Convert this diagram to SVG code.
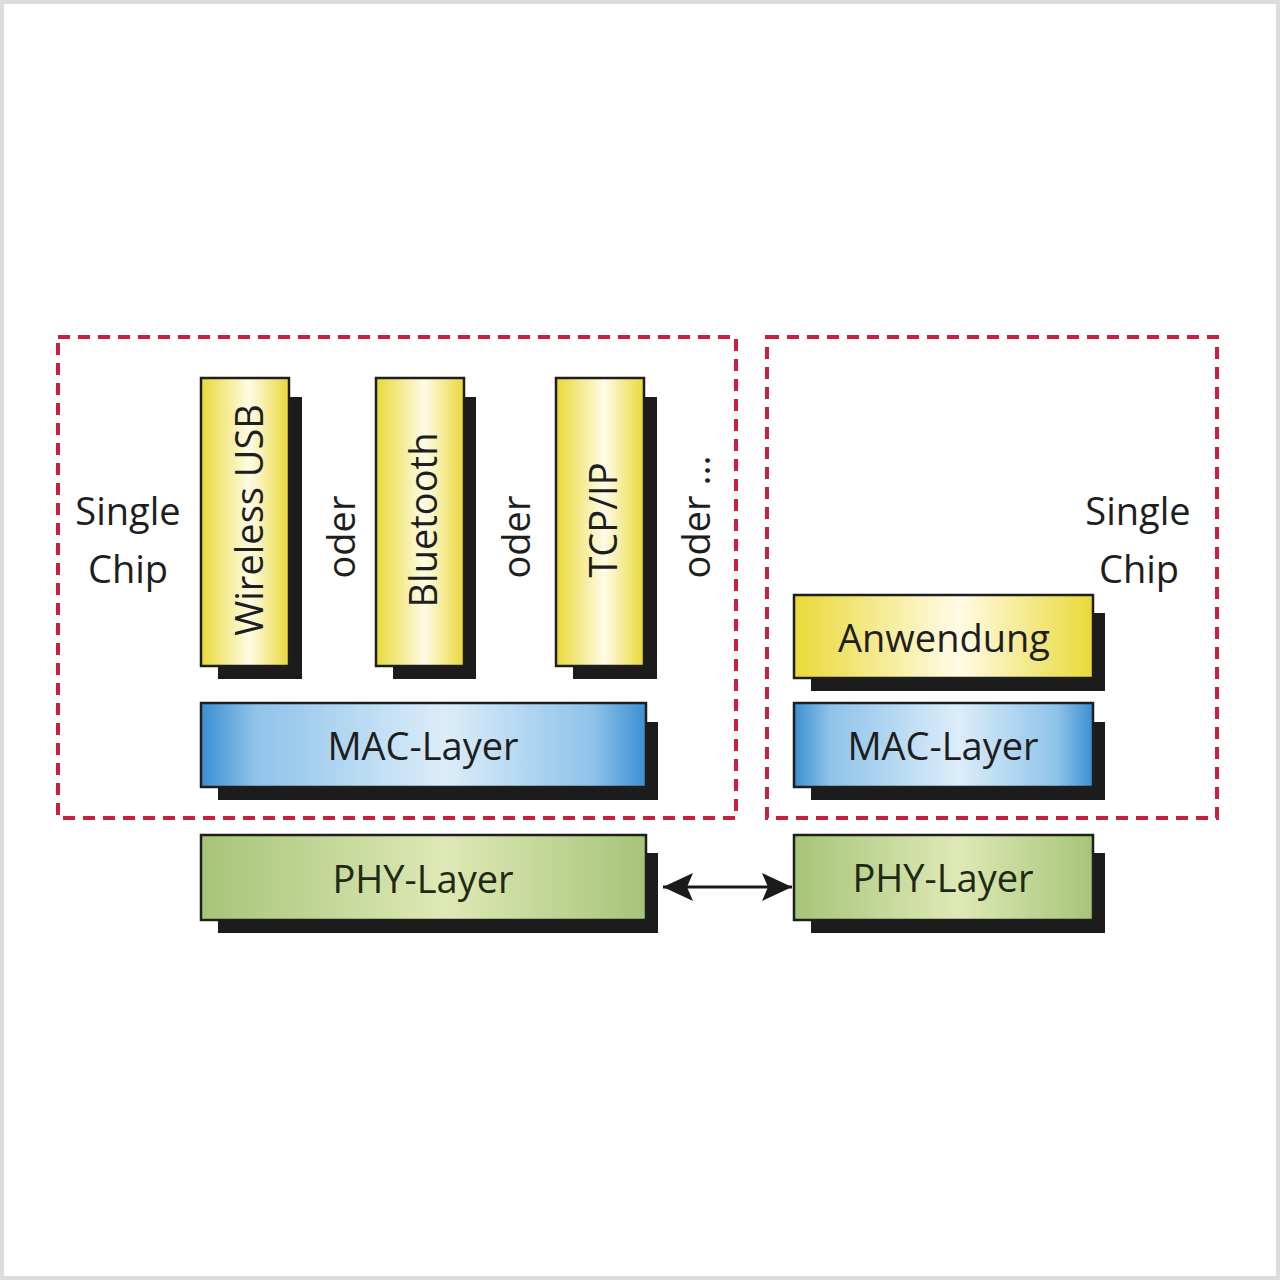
<svg xmlns="http://www.w3.org/2000/svg" width="1280" height="1280" viewBox="0 0 1280 1280">
<defs>
<linearGradient id="gy" x1="0" y1="0" x2="1" y2="0">
<stop offset="0" stop-color="#e9d938"/><stop offset="0.55" stop-color="#fffbe6"/><stop offset="1" stop-color="#e9d938"/>
</linearGradient>
<linearGradient id="gb" x1="0" y1="0" x2="1" y2="0">
<stop offset="0" stop-color="#3b8fd2"/><stop offset="0.12" stop-color="#8ec3ea"/><stop offset="0.55" stop-color="#dcedf9"/><stop offset="0.88" stop-color="#8ec3ea"/><stop offset="1" stop-color="#3b8fd2"/>
</linearGradient>
<linearGradient id="gg" x1="0" y1="0" x2="1" y2="0">
<stop offset="0" stop-color="#a6c478"/><stop offset="0.55" stop-color="#dfe9b6"/><stop offset="1" stop-color="#a6c478"/>
</linearGradient>
<marker id="ah" viewBox="0 0 30 28" refX="30" refY="14" markerWidth="30" markerHeight="28" markerUnits="userSpaceOnUse" orient="auto-start-reverse">
<path d="M0,0 L30,14 L0,28 L6,14 Z" fill="#1a1a1a"/>
</marker>
<style>
.frame{fill:none;stroke:#dcdcdc;stroke-width:4}
.chip{fill:none;stroke:#c8203f;stroke-width:4;stroke-dasharray:12 8}
.sh{fill:#1c1c1c}
.box{stroke:#1e1e1e;stroke-width:2.5}
.t{font-family:"Open Sans","Liberation Sans",sans-serif;font-size:38px;fill:#1e1e1e;text-anchor:middle}
.tg{fill:#1f2a14}
.conn{stroke:#1a1a1a;stroke-width:3;fill:none}
</style>
</defs>
<rect x="0" y="0" width="1280" height="1280" fill="#ffffff"/>
<rect class="frame" x="2" y="2" width="1276" height="1276"/>

<g id="chip-left">
<rect class="chip" x="58" y="337" width="678" height="481"/>
<text class="t" x="128" y="525">Single</text>
<text class="t" x="128" y="583">Chip</text>
</g>
<g id="chip-right">
<rect class="chip" x="767" y="337" width="450" height="481"/>
<text class="t" x="1138" y="525">Single</text>
<text class="t" x="1139" y="583">Chip</text>
</g>

<g id="wireless-usb">
<rect class="sh" x="218" y="397" width="84" height="282"/>
<rect class="box" x="201" y="378" width="88" height="288" fill="url(#gy)"/>
<text class="t" transform="translate(263,520) rotate(-90)">Wireless USB</text>
</g>
<g id="oder1"><text class="t" transform="translate(355,537) rotate(-90)">oder</text></g>
<g id="bluetooth">
<rect class="sh" x="393" y="397" width="83" height="282"/>
<rect class="box" x="376" y="378" width="88" height="288" fill="url(#gy)"/>
<text class="t" transform="translate(437,520) rotate(-90)">Bluetooth</text>
</g>
<g id="oder2"><text class="t" transform="translate(530,537) rotate(-90)">oder</text></g>
<g id="tcpip">
<rect class="sh" x="573" y="397" width="84" height="282"/>
<rect class="box" x="556" y="378" width="88" height="288" fill="url(#gy)"/>
<text class="t" transform="translate(617,520) rotate(-90)">TCP/IP</text>
</g>
<g id="oder3"><text class="t" transform="translate(710,517) rotate(-90)">oder ...</text></g>

<g id="mac-left">
<rect class="sh" x="218" y="722" width="440" height="78"/>
<rect class="box" x="201" y="703" width="445" height="84" fill="url(#gb)"/>
<text class="t" x="423" y="760">MAC-Layer</text>
</g>
<g id="phy-left">
<rect class="sh" x="218" y="853" width="440" height="80"/>
<rect class="box" x="201" y="835" width="445" height="85" fill="url(#gg)"/>
<text class="t tg" x="423" y="893">PHY-Layer</text>
</g>

<g id="anwendung">
<rect class="sh" x="811" y="613" width="294" height="78"/>
<rect class="box" x="794" y="595" width="299" height="83" fill="url(#gy)"/>
<text class="t" x="944" y="652">Anwendung</text>
</g>
<g id="mac-right">
<rect class="sh" x="811" y="722" width="294" height="78"/>
<rect class="box" x="794" y="703" width="299" height="84" fill="url(#gb)"/>
<text class="t" x="943" y="760">MAC-Layer</text>
</g>
<g id="phy-right">
<rect class="sh" x="811" y="853" width="294" height="80"/>
<rect class="box" x="794" y="835" width="299" height="85" fill="url(#gg)"/>
<text class="t tg" x="943" y="892">PHY-Layer</text>
</g>

<g id="connectors">
<line class="conn" x1="663" y1="887" x2="792" y2="887" marker-start="url(#ah)" marker-end="url(#ah)"/>
</g>
</svg>
